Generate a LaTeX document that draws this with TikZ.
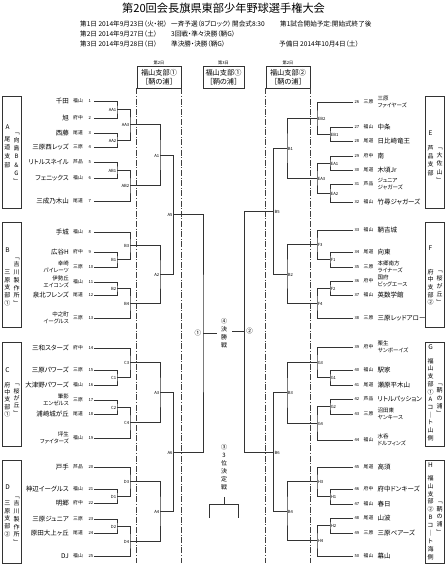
\documentclass[tikz,border=0pt]{standalone}
\usepackage{fontspec}
\setmainfont{Noto Sans CJK JP}[RawFeature=+palt]
\usetikzlibrary{calc}
\tikzset{
  br/.style={draw=black!80, line width=0.7pt},
  dd/.style={draw=black!75, line width=0.6pt, dash pattern=on 6pt off 1.6pt on 1pt off 1.6pt},
  bx/.style={draw=black!80, line width=0.7pt, inner sep=0pt},
  tx65/.style={inner sep=0pt, font=\fontsize{6.5}{7}\selectfont, text height=5.6pt, text depth=0.8pt},
  tx6/.style={inner sep=0pt, font=\fontsize{6}{7}\selectfont, text height=5.2pt, text depth=0.7pt},
  tx48/.style={inner sep=0pt, font=\fontsize{4.8}{5}\selectfont, text height=4.1pt, text depth=0.6pt},
  tx42/.style={inner sep=0pt, font=\fontsize{4.2}{5}\selectfont, text height=3.6pt, text depth=0.5pt},
  nameL/.style={tx65, anchor=east},
  nameL2/.style={inner sep=0pt, anchor=east, align=right, font=\fontsize{5.5}{6.6}\selectfont},
  nameR/.style={tx65, anchor=west},
  nameR2/.style={inner sep=0pt, anchor=west, align=left, font=\fontsize{5.5}{6.6}\selectfont},
  dist/.style={tx48},
  numtx/.style={tx42, anchor=west},
  lblL/.style={tx42, anchor=east, xshift=-0.6pt, yshift=-0.6pt},
  lblR/.style={tx42, anchor=west, xshift=0.6pt, yshift=-0.6pt},
  vch/.style={tx6},
  grp/.style={inner sep=0pt, font=\fontsize{6.5}{7}\selectfont, text height=5.6pt, text depth=0.8pt},
  hd/.style={inner sep=0pt, anchor=west, font=\fontsize{6.6}{7}\selectfont, text height=5.7pt, text depth=0.8pt},
}
\newcommand\tmL[6][nameL]{%
  \coordinate (#2) at (94,#3);
  \node[#1] (#2n) at (69,#3) {#4};
  \node[dist] (#2d) at (78,#3) {#5};
  \node[numtx] (#2k) at (88.3,#3) {#6};
}
\newcommand\tmR[6][nameR]{%
  \coordinate (#2) at (353,#3);
  \node[numtx] (#2k) at (354.3,#3) {#6};
  \node[dist] (#2d) at (368.5,#3) {#5};
  \node[#1] (#2n) at (377.5,#3) {#4};
}
\newcommand\jn[6][lblL]{%
  \coordinate (#2m) at ($(#3)!0.5!(#4)$);
  \coordinate (#2) at (#5,0 |- #2m);
  \draw[br] (#3) -| (#2) |- (#4);
  \node[#1] (#2l) at (#2) {#6};
}
\newcommand\vtxt[5]{%
  \foreach \c [count=\i] in {#5} \node[vch] (#1-\i) at (#2,{#3+(\i-1)*#4}) {\c};
}
\begin{document}
\begin{tikzpicture}[x=1pt,y=-1pt]
\useasboundingbox (0,0) rectangle (447,568);
% title and header
\node[inner sep=0pt, font=\fontsize{11.2}{12}\selectfont] (title) at (223.5,8.5) {第20回会長旗県東部少年野球選手権大会};
\node[hd] (h11) at (80,24) {第1日 2014年9月23日（火・祝）};
\node[hd] (h12) at (171,24) {一斉予選（8ブロック）};
\node[hd] (h13) at (232,24) {開会式8:30};
\node[hd] (h14) at (280,24) {第1試合開始予定:開始式終了後};
\node[hd] (h21) at (80,34.5) {第2日 2014年9月27日（土）};
\node[hd] (h22) at (171,34.5) {3回戦・準々決勝（鞆G）};
\node[hd] (h31) at (80,44.5) {第3日 2014年9月28日（日）};
\node[hd] (h32) at (171,44.5) {準決勝・決勝（鞆G）};
\node[hd] (h33) at (279,44.5) {予備日};
\node[hd] (h34) at (300,44.5) {2014年10月4日（土）};
% top boxes
\node[bx, minimum width=44pt, minimum height=22pt, align=center, font=\fontsize{7.2}{9.4}\selectfont] (tb1) at (159,77) {福山支部①\\［鞆の浦］};
\node[bx, minimum width=41pt, minimum height=22pt, align=center, font=\fontsize{7.2}{9.4}\selectfont] (tb2) at (223.5,77) {福山支部①\\［鞆の浦］};
\node[bx, minimum width=44pt, minimum height=22pt, align=center, font=\fontsize{7.2}{9.4}\selectfont] (tb3) at (288,77) {福山支部②\\［鞆の浦］};
\node[tx42] (d1) at (159,62.8) {第2日};
\node[tx42] (d2) at (223.5,62.8) {第3日};
\node[tx42] (d3) at (288,62.8) {第2日};
\coordinate (bot) at (0,563);
\draw[dd] (tb1.south west) -- (tb1.south west |- bot);
\draw[dd] (tb1.south east) -- (tb1.south east |- bot);
\draw[dd] (tb3.south west) -- (tb3.south west |- bot);
\draw[dd] (tb3.south east) -- (tb3.south east |- bot);
% group boxes
\node[bx, minimum width=19pt, minimum height=112pt] (gA) at (12,152) {};
\node[bx, minimum width=19pt, minimum height=105pt] (gB) at (12,275) {};
\node[bx, minimum width=19pt, minimum height=104pt] (gC) at (12,394) {};
\node[bx, minimum width=19pt, minimum height=103pt] (gD) at (12,511.5) {};
\node[bx, minimum width=19pt, minimum height=112pt] (gE) at (435,152) {};
\node[bx, minimum width=19pt, minimum height=105pt] (gF) at (435,275) {};
\node[bx, minimum width=19pt, minimum height=104pt] (gG) at (435,394) {};
\node[bx, minimum width=19pt, minimum height=103pt] (gH) at (435,511.5) {};
\node[grp] (lA) at (7.5,127) {A};
\vtxt{A1}{7.5}{139}{8.7}{尾,道,支,部}
\vtxt{A2}{16.5}{132}{8.2}{﹁,向,島,B,\&,G,﹂}
\node[grp] (lB) at (7.5,250) {B};
\vtxt{B1}{7.5}{272}{7.8}{三,原,支,部,①}
\vtxt{B2}{16.5}{257}{7.7}{﹁,吉,川,製,作,所,﹂}
\node[grp] (lC) at (7.5,370) {C};
\vtxt{C1}{7.5}{385}{7.3}{府,中,支,部,①}
\vtxt{C2}{16.5}{383.5}{7.4}{﹁,桜,が,丘,﹂}
\node[grp] (lD) at (7.5,487) {D};
\vtxt{D1}{7.5}{503}{7.8}{三,原,支,部,②}
\vtxt{D2}{16.5}{496}{7.7}{﹁,吉,川,製,作,所,﹂}
\node[grp] (lE) at (430.5,133) {E};
\vtxt{E1}{430.5}{148}{8.3}{芦,品,支,部}
\vtxt{E2}{439.5}{147}{8.3}{﹁,大,佐,山,﹂}
\node[grp] (lF) at (430.5,248) {F};
\vtxt{F1}{430.5}{272}{7.6}{府,中,支,部,②}
\vtxt{F2}{439.5}{270}{8}{﹁,桜,が,丘,﹂}
\node[grp] (lG) at (430.5,347) {G};
\vtxt{G1}{430.5}{361}{7.7}{福,山,支,部,①,A,コ,｜,ト,山,側}
\vtxt{G2}{439.5}{383}{7.6}{﹁,鞆,の,浦,﹂}
\node[grp] (lH) at (430.5,465) {H};
\vtxt{H1}{430.5}{478}{7.9}{福,山,支,部,②,B,コ,｜,ト,海,側}
\vtxt{H2}{439.5}{501}{7.75}{﹁,鞆,の,浦,﹂}
% left teams
\tmL{t1}{101}{千田}{福山}{1}
\tmL{t2}{118}{旭}{府中}{2}
\tmL{t3}{133}{西藤}{尾道}{3}
\tmL{t4}{147}{三原西レッズ}{三原}{4}
\tmL{t5}{162}{リトルスネイル}{芦品}{5}
\tmL{t6}{178}{フェニックス}{福山}{6}
\tmL{t7}{201}{三成乃木山}{尾道}{7}
\tmL{t8}{232}{手城}{福山}{8}
\tmL{t9}{252}{広谷H}{府中}{9}
\tmL[nameL2]{t10}{267}{幸崎\\パイレーツ}{三原}{10}
\tmL[nameL2]{t11}{282}{伊勢丘\\エイコンズ}{福山}{11}
\tmL{t12}{295}{泉北フレンズ}{尾道}{12}
\tmL[nameL2]{t13}{318}{中之町\\イーグルス}{三原}{13}
\tmL{t14}{348}{三和スターズ}{府中}{14}
\tmL{t15}{370}{三原パワーズ}{三原}{15}
\tmL{t16}{385}{大津野パワーズ}{福山}{16}
\tmL[nameL2]{t17}{400}{筆影\\エンゼルス}{三原}{17}
\tmL{t18}{414}{浦崎城が丘}{尾道}{18}
\tmL[nameL2]{t19}{438}{坪生\\ファイターズ}{福山}{19}
\tmL{t20}{467}{戸手}{芦品}{20}
\tmL{t21}{489}{神辺イーグルス}{福山}{21}
\tmL{t22}{503}{明郷}{府中}{22}
\tmL{t23}{519}{三原ジュニア}{三原}{23}
\tmL{t24}{533}{原田大上ヶ丘}{尾道}{24}
\tmL{t25}{556}{DJ}{福山}{25}
% right teams
\tmR[nameR2]{t26}{102}{三原\\ファイヤーズ}{三原}{26}
\tmR{t27}{127}{中条}{福山}{27}
\tmR{t28}{141}{日比崎竜王}{尾道}{28}
\tmR{t29}{156}{南}{府中}{29}
\tmR{t30}{170}{木頃Jr}{尾道}{30}
\tmR[nameR2]{t31}{184}{ジュニア\\ジャガーズ}{芦品}{31}
\tmR{t32}{202}{竹尋ジャガーズ}{福山}{32}
\tmR{t33}{230}{鞆吉城}{福山}{33}
\tmR{t34}{252}{向東}{尾道}{34}
\tmR[nameR2]{t35}{267}{本郷南方\\ライナーズ}{三原}{35}
\tmR[nameR2]{t36}{281}{国府\\ビッグエース}{府中}{36}
\tmR{t37}{295}{英数学館}{福山}{37}
\tmR{t38}{318}{三原レッドアロー}{三原}{38}
\tmR[nameR2]{t39}{347}{栗生\\サンボーイズ}{府中}{39}
\tmR{t40}{370}{駅家}{福山}{40}
\tmR{t41}{385}{瀬原平木山}{尾道}{41}
\tmR{t42}{399}{リトルパッション}{芦品}{42}
\tmR[nameR2]{t43}{414}{沼田東\\ヤンキース}{三原}{43}
\tmR[nameR2]{t44}{440}{水呑\\ドルフィンズ}{福山}{44}
\tmR{t45}{467}{高須}{尾道}{45}
\tmR{t46}{489}{府中ドンキーズ}{府中}{46}
\tmR{t47}{504}{春日}{福山}{47}
\tmR{t48}{518}{山波}{尾道}{48}
\tmR{t49}{533}{三原ベアーズ}{三原}{49}
\tmR{t50}{556}{幕山}{福山}{50}
% left bracket
\jn{AA1}{t1}{t2}{117}{AA1}
\jn{AA2}{t3}{t4}{117}{AA2}
\jn{AA3}{AA1}{AA2}{130}{AA3}
\jn{AB1}{t5}{t6}{117}{AB1}
\jn{AB2}{AB1}{t7}{130}{AB2}
\jn{LB1}{t9}{t10}{117}{B1}
\jn{LB3}{t8}{LB1}{130}{B3}
\jn{LB2}{t11}{t12}{117}{B2}
\jn{LB4}{LB2}{t13}{130}{B4}
\jn{C1}{t15}{t16}{117}{C1}
\jn{C3}{t14}{C1}{130}{C3}
\jn{C2}{t17}{t18}{117}{C2}
\jn{C4}{C2}{t19}{130}{C4}
\jn{D1}{t21}{t22}{117}{D1}
\jn{D3}{t20}{D1}{130}{D3}
\jn{D2}{t23}{t24}{117}{D2}
\jn{D4}{D2}{t25}{130}{D4}
\jn{LA1}{AA3}{AB2}{160}{A1}
\jn{LA2}{LB3}{LB4}{160}{A2}
\jn{LA3}{C3}{C4}{160}{A3}
\jn{LA4}{D3}{D4}{160}{A4}
\jn{LA5}{LA1}{LA2}{173.3}{A5}
\jn{LA6}{LA3}{LA4}{173.3}{A6}
\jn{SL}{LA5}{LA6}{203}{}
% right bracket
\jn[lblR]{EB1}{t27}{t28}{330}{EB1}
\jn[lblR]{EB2}{t26}{EB1}{317}{EB2}
\jn[lblR]{EA1}{t29}{t30}{330}{EA1}
\jn[lblR]{EA2}{t31}{t32}{330}{EA2}
\jn[lblR]{EA3}{EA1}{EA2}{317}{EA3}
\jn[lblR]{F1}{t34}{t35}{330}{F1}
\jn[lblR]{F3}{t33}{F1}{317}{F3}
\jn[lblR]{F2}{t36}{t37}{330}{F2}
\jn[lblR]{F4}{F2}{t38}{317}{F4}
\jn[lblR]{G1}{t40}{t41}{330}{G1}
\jn[lblR]{G3}{t39}{G1}{317}{G3}
\jn[lblR]{G2}{t42}{t43}{330}{G2}
\jn[lblR]{G4}{G2}{t44}{317}{G4}
\jn[lblR]{H1}{t46}{t47}{330}{H1}
\jn[lblR]{H3}{t45}{H1}{317}{H3}
\jn[lblR]{H2}{t48}{t49}{330}{H2}
\jn[lblR]{H4}{H2}{t50}{317}{H4}
\jn[lblR]{RB1}{EB2}{EA3}{287}{B1}
\jn[lblR]{RB2}{F3}{F4}{287}{B2}
\jn[lblR]{RB3}{G3}{G4}{287}{B3}
\jn[lblR]{RB4}{H3}{H4}{287}{B4}
\jn[lblR]{RB5}{RB1}{RB2}{273.7}{B5}
\jn[lblR]{RB6}{RB3}{RB4}{273.7}{B6}
\jn[lblR]{SR}{RB5}{RB6}{244.3}{}
% final
\coordinate (SLs) at ($(SL)+(14,0)$);
\coordinate (SRs) at ($(SR)+(-12.6,0)$);
\draw[br] (SL) -- (SLs);
\draw[br] (SR) -- (SRs);
\node[tx65, anchor=east] (m1) at ($(SL)+(-1.8,0)$) {①};
\node[tx65, anchor=west] (m2) at ($(SR)+(1.8,0)$) {②};
\vtxt{fin}{224}{321}{8}{④,決,勝,戦}
\vtxt{thr}{224}{447}{8}{③,3,位,決,定,戦}
% third place bracket
\coordinate (q0) at (224,497);
\coordinate (q1) at (224,504);
\coordinate (qa) at (209,504);
\coordinate (qb) at (238,504);
\coordinate (qa2) at (209,518);
\coordinate (qb2) at (238,518);
\draw[br] (q0) -- (q1);
\draw[br] (qa2) -- (qa) -- (qb) -- (qb2);
\end{tikzpicture}
\end{document}
